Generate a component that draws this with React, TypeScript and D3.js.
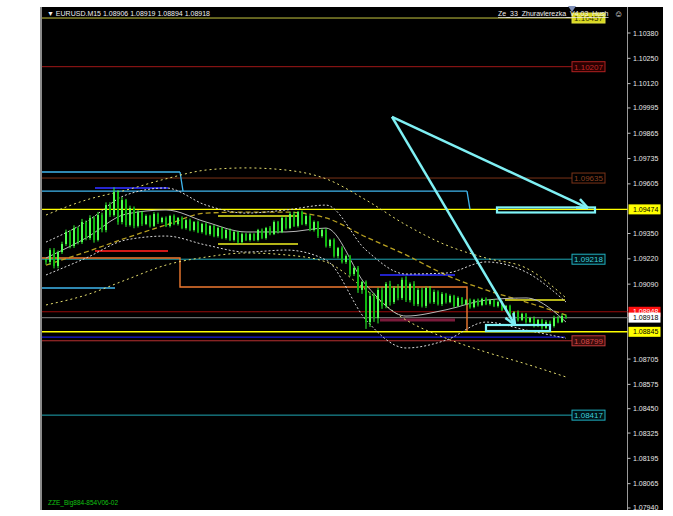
import React from "react";
import * as d3 from "d3";

// ---- candle data (EURUSD M15) ----
const closes = [
  1.09204, 1.09265, 1.09183, 1.09255, 1.09296, 1.09358, 1.09286, 1.09378, 1.09306, 1.09409,
  1.09327, 1.0943, 1.09317, 1.09445, 1.09368, 1.09496, 1.09445, 1.09563, 1.09409, 1.09522,
  1.09394, 1.09481, 1.09389, 1.0946, 1.09399, 1.0944, 1.09389, 1.0945, 1.09409, 1.0943,
  1.09389, 1.0944, 1.09399, 1.0943, 1.09378, 1.09419, 1.09368, 1.09409, 1.09358, 1.09399,
  1.09347, 1.09389, 1.09337, 1.09378, 1.09327, 1.09368, 1.09317, 1.09358, 1.09306, 1.09347,
  1.09317, 1.09347, 1.09317, 1.09368, 1.09327, 1.09378, 1.09347, 1.09409, 1.09358, 1.0943,
  1.09378, 1.0945, 1.09389, 1.0946, 1.09399, 1.0944, 1.09368, 1.09409, 1.09337, 1.09368,
  1.09286, 1.09317, 1.09234, 1.09275, 1.09204, 1.09234, 1.09142, 1.09173, 1.0906, 1.09101,
  1.08895, 1.09029, 1.08916, 1.0906, 1.08978, 1.09091, 1.08998, 1.0907, 1.09019, 1.09112,
  1.09008, 1.09091, 1.08988, 1.0906, 1.08978, 1.0907, 1.08998, 1.0905, 1.08988, 1.09039,
  1.08998, 1.09029, 1.08978, 1.09019, 1.08988, 1.09008, 1.08972, 1.09008, 1.08983, 1.09014,
  1.08988, 1.09008, 1.08978, 1.08998, 1.08958, 1.08978, 1.08926, 1.08947, 1.08906, 1.08937,
  1.08895, 1.08916, 1.08875, 1.08906, 1.08865, 1.08895, 1.08875, 1.08916, 1.08895, 1.08926,
  1.08918,
];
// wick lengths in points (0.00001)
const wickUp = [
  8, 10, 10, 8, 12, 12, 10, 14, 8, 16,
  8, 14, 10, 16, 12, 14, 15, 24, 10, 14,
  6, 12, 8, 10, 6, 8, 6, 10, 8, 6,
  8, 6, 8, 5, 8, 6, 8, 5, 8, 6,
  8, 6, 5, 8, 6, 5, 8, 6, 5, 8,
  6, 8, 5, 6, 8, 6, 10, 8, 6, 10,
  8, 10, 12, 6, 8, 10, 6, 8, 5, 8,
  10, 6, 8, 6, 10, 8, 6, 8, 10, 6,
  8, 20, 15, 12, 14, 10, 16, 10, 20, 12,
  18, 8, 14, 10, 12, 8, 10, 12, 8, 10,
  6, 8, 6, 8, 5, 6, 8, 6, 8, 6,
  8, 6, 5, 8, 6, 5, 6, 5, 8, 6,
  5, 6, 8, 5, 6, 10, 8, 12, 10, 12,
  8,
];
const wickDn = [
  14, 15, 12, 12, 10, 10, 12, 10, 12, 10,
  12, 10, 14, 8, 12, 12, 10, 8, 14, 12,
  10, 8, 12, 8, 10, 6, 8, 6, 10, 8,
  6, 8, 6, 8, 6, 8, 6, 8, 6, 8,
  6, 8, 6, 8, 6, 8, 6, 8, 10, 8,
  6, 8, 6, 8, 6, 8, 6, 5, 8, 6,
  8, 6, 5, 8, 6, 8, 6, 8, 10, 8,
  8, 10, 8, 12, 8, 10, 12, 10, 15, 20,
  35, 25, 20, 28, 15, 12, 18, 10, 12, 10,
  10, 12, 10, 12, 8, 10, 8, 10, 8, 10,
  8, 6, 8, 6, 8, 6, 8, 6, 8, 6,
  6, 8, 6, 8, 6, 8, 6, 8, 8, 6,
  8, 6, 8, 6, 8, 6, 6, 8, 6, 5,
  6,
];

// ---- indicator lines, sampled every 10 bars ----
const bandBars = [0, 10, 20, 30, 40, 50, 60, 70, 80, 90, 100, 110, 120, 130];
const maLine = [1.09224, 1.09327, 1.0945, 1.09471, 1.09409, 1.09358, 1.09358, 1.09378, 1.09086, 1.08926, 1.08958, 1.09008, 1.09019, 1.08895];
const bbUpper = [1.09306, 1.09409, 1.09548, 1.09584, 1.09496, 1.09455, 1.09471, 1.09496, 1.09265, 1.09142, 1.09147, 1.09204, 1.09152, 1.08998];
const bbLower = [1.09137, 1.09224, 1.09317, 1.09337, 1.09291, 1.09255, 1.09265, 1.09214, 1.08906, 1.08762, 1.08802, 1.08895, 1.08854, 1.08812];
const envUpper = [1.09445, 1.09522, 1.09573, 1.09631, 1.09676, 1.09687, 1.09676, 1.09631, 1.09522, 1.09394, 1.09291, 1.09224, 1.09173, 1.09019];
const envLower = [1.08983, 1.09034, 1.09112, 1.09188, 1.09229, 1.0925, 1.0924, 1.09204, 1.0906, 1.08906, 1.08812, 1.08741, 1.0868, 1.08613];
const slowMa = [1.09188, 1.09255, 1.09327, 1.09394, 1.09455, 1.0946, 1.0946, 1.0943, 1.09332, 1.0924, 1.09137, 1.0906, 1.08998, 1.08931];

// ---- price axis ----
const axisTicks = [1.1038, 1.1025, 1.1012, 1.09995, 1.09865, 1.09735, 1.09605, 1.0935, 1.0922, 1.0909, 1.08705, 1.08575, 1.0845, 1.08325, 1.08195, 1.08065, 1.0794];
const axisTickLabels = ["1.10380", "1.10250", "1.10120", "1.09995", "1.09865", "1.09735", "1.09605", "1.09350", "1.09220", "1.09090", "1.08705", "1.08575", "1.08450", "1.08325", "1.08195", "1.08065", "1.07940"];

// ---- horizontal levels with right-side label boxes ----
const labeledLevels = [1.10457, 1.10207, 1.09635, 1.09218, 1.08799, 1.08417];
const labeledTexts = ["1.10457", "1.10207", "1.09635", "1.09218", "1.08799", "1.08417"];
// levels that run to the price axis
const axisLevels = [1.08948, 1.08918, 1.09474, 1.08845];
const axisLevelTexts = ["1.08948", "1.08918", "1.09474", "1.08845"];
const blueLevel = 1.08818;

// ---- drawn segments: [fromBar, toBar, price] ----
const skyTop = [-1, 33.5, 1.09666];
const skyMid = [-1, 105.25, 1.09568];
const skyLow = [-1, 17.25, 1.0907];
const blueTop = [12.25, 30.5, 1.09584];
const redShort = [12.25, 30.5, 1.0926];
const yellowShort = [
  [43, 63, 1.0944],
  [43, 63, 1.09296],
  [114.75, 129.75, 1.09008],
];
const blueBox = [83.5, 102.25, 1.09137];
const maroonBox = [83.5, 102.25, 1.08906];
// orange step line: [bar, price]
const orangeStep = [
  [-1, 1.09224], [33.5, 1.09224], [33.5, 1.09075], [105.25, 1.09075], [105.25, 1.08849],
];
// sky step drop
const skyDrop = [[105.25, 1.09568], [106, 1.09474]];
// rectangles [fromBar, toBar, priceTop, priceBottom]
const rects = [
  [112.75, 137.25, 1.09484, 1.09458],
  [110, 126, 1.0888, 1.08849],
];
// arrows [fromBar, fromPrice, toBar, toPrice]
const arrows = [
  [86.5, 1.09949, 135.5, 1.09481],
  [86.5, 1.09949, 117.25, 1.0888],
];

const W = 673;
const H = 516;
const FONT = "'Liberation Sans', Arial, sans-serif";

export default function App() {
  const xs = d3.scaleLinear().domain([0, 130]).range([46, 566]);
  const ys = d3.scaleLinear().domain([1.079297, 1.105136]).range([510, 7]);
  const plotR = 627.5;
  const labelX = xs(131.5);

  const band = (vals: number[]) =>
    d3
      .line<number>()
      .x((_, k) => xs(bandBars[k]))
      .y((v) => ys(v))
      .curve(d3.curveMonotoneX)(vals) || "";

  const stepPath = (pts: number[][]) =>
    d3
      .line<number[]>()
      .x((p) => xs(p[0]))
      .y((p) => ys(p[1]))(pts) || "";

  const labelStyles = [
    { line: "#c8c840", fill: "#d8d820", stroke: "#e0e040", text: "#303000" },
    { line: "#a01818", fill: "#2a0000", stroke: "#b02020", text: "#c02828" },
    { line: "#7a3318", fill: "#000000", stroke: "#7a3318", text: "#8a4020" },
    { line: "#1fa6b4", fill: "#001418", stroke: "#1fb0c0", text: "#3ccfdc" },
    { line: "#b83030", fill: "#3a0c0c", stroke: "#c03a3a", text: "#d84848" },
    { line: "#1fa6b4", fill: "#001418", stroke: "#1fb0c0", text: "#3ccfdc" },
  ];
  const axisStyles = [
    { line: "#9a0a0a", fill: "#ff1010", text: "#ffffff" },
    { line: "#6a6a6a", fill: "#ffffff", text: "#000000" },
    { line: "#ffff00", fill: "#ffff00", text: "#000000" },
    { line: "#ffff00", fill: "#ffff00", text: "#000000" },
  ];

  const candles = closes.map((c, i) => {
    const o = i === 0 ? c + 0.0001 : closes[i - 1];
    const hi = Math.max(o, c) + wickUp[i] * 1e-5;
    const lo = Math.min(o, c) - wickDn[i] * 1e-5;
    return { i, o, c, hi, lo };
  });

  const arrowHead = (a: number[], key: string) => {
    const x1 = xs(a[0]), y1 = ys(a[1]), x2 = xs(a[2]), y2 = ys(a[3]);
    const ang = Math.atan2(y2 - y1, x2 - x1);
    const L = 12, sp = 0.4;
    const p1 = [x2 - L * Math.cos(ang - sp), y2 - L * Math.sin(ang - sp)];
    const p2 = [x2 - L * Math.cos(ang + sp), y2 - L * Math.sin(ang + sp)];
    return (
      <g key={key}>
        <line x1={x1} y1={y1} x2={x2} y2={y2} stroke="#7ff0f4" strokeWidth={2.5} />
        <line x1={x2} y1={y2} x2={p1[0]} y2={p1[1]} stroke="#7ff0f4" strokeWidth={2.5} />
        <line x1={x2} y1={y2} x2={p2[0]} y2={p2[1]} stroke="#7ff0f4" strokeWidth={2.5} />
      </g>
    );
  };

  return (
    <svg width={W} height={H} style={{ position: "absolute", left: 0, top: 0, background: "#ffffff" }} fontFamily={FONT}>
      <rect x={0} y={0} width={W} height={H} fill="#ffffff" />
      <rect x={40} y={7} width={623} height={503} fill="#000000" />
      <rect x={40} y={7} width={2} height={503} fill="#8a8a8a" />
      <line x1={plotR} y1={7} x2={plotR} y2={510} stroke="#9a9a9a" strokeWidth={1} />

      {/* labeled levels */}
      {labeledLevels.map((p, k) => (
        <line key={"ll" + k} x1={xs(-1)} x2={labelX} y1={ys(p)} y2={ys(p)} stroke={labelStyles[k].line} strokeWidth={1} />
      ))}
      {/* blue level */}
      <line x1={xs(-1)} x2={xs(129.75)} y1={ys(blueLevel)} y2={ys(blueLevel)} stroke="#1a1ad8" strokeWidth={1.2} />
      {/* axis levels */}
      {axisLevels.map((p, k) => (
        <line key={"al" + k} x1={xs(-1)} x2={plotR} y1={ys(p)} y2={ys(p)} stroke={axisStyles[k].line} strokeWidth={k >= 2 ? 1.4 : 1.2} />
      ))}

      {/* segments */}
      <line x1={xs(skyTop[0])} x2={xs(skyTop[1])} y1={ys(skyTop[2])} y2={ys(skyTop[2])} stroke="#3fb6ee" strokeWidth={1.3} />
      <line x1={xs(skyTop[1])} x2={xs(skyTop[1]) + 3} y1={ys(skyTop[2])} y2={ys(skyMid[2])} stroke="#3fb6ee" strokeWidth={1.3} />
      <line x1={xs(skyMid[0])} x2={xs(skyMid[1])} y1={ys(skyMid[2])} y2={ys(skyMid[2])} stroke="#3fb6ee" strokeWidth={1.3} />
      <path d={stepPath(skyDrop)} stroke="#3fb6ee" strokeWidth={1.3} fill="none" />
      <line x1={xs(skyLow[0])} x2={xs(skyLow[1])} y1={ys(skyLow[2])} y2={ys(skyLow[2])} stroke="#3fb6ee" strokeWidth={1.3} />
      <line x1={xs(blueTop[0])} x2={xs(blueTop[1])} y1={ys(blueTop[2])} y2={ys(blueTop[2])} stroke="#2626d0" strokeWidth={2} />
      <line x1={xs(redShort[0])} x2={xs(redShort[1])} y1={ys(redShort[2])} y2={ys(redShort[2])} stroke="#d01818" strokeWidth={2} />
      {yellowShort.map((s, k) => (
        <line key={"ys" + k} x1={xs(s[0])} x2={xs(s[1])} y1={ys(s[2])} y2={ys(s[2])} stroke="#f0f020" strokeWidth={1.5} />
      ))}
      <line x1={xs(blueBox[0])} x2={xs(blueBox[1])} y1={ys(blueBox[2])} y2={ys(blueBox[2])} stroke="#2222c8" strokeWidth={2.2} />
      <line x1={xs(maroonBox[0])} x2={xs(maroonBox[1])} y1={ys(maroonBox[2])} y2={ys(maroonBox[2])} stroke="#7a1a3a" strokeWidth={3} />
      <path d={stepPath(orangeStep)} stroke="#f07a30" strokeWidth={1.4} fill="none" />

      {/* indicator lines */}
      <path d={band(envUpper)} stroke="#e8e070" strokeWidth={1} strokeDasharray="2 3" fill="none" />
      <path d={band(envLower)} stroke="#e8e070" strokeWidth={1} strokeDasharray="2 3" fill="none" />
      <path d={band(slowMa)} stroke="#b8a020" strokeWidth={1.3} strokeDasharray="5 3" fill="none" />
      <path d={band(bbUpper)} stroke="#d8d8d8" strokeWidth={1} strokeDasharray="2 2" fill="none" />
      <path d={band(bbLower)} stroke="#d8d8d8" strokeWidth={1} strokeDasharray="2 2" fill="none" />
      <path d={band(maLine)} stroke="#b8b8b8" strokeWidth={1} fill="none" />

      {/* candles */}
      {candles.map((k) => {
        const x = xs(k.i);
        const top = ys(Math.max(k.o, k.c));
        const bot = ys(Math.min(k.o, k.c));
        const bull = k.c >= k.o;
        return (
          <g key={"c" + k.i}>
            <line x1={x} x2={x} y1={ys(k.hi)} y2={ys(k.lo)} stroke="#30ff30" strokeWidth={1} />
            <rect x={x - 1} y={top} width={2} height={Math.max(1, bot - top)} fill={bull ? "#50ff50" : "#10b810"} />
          </g>
        );
      })}

      {/* rectangles */}
      {rects.map((r, k) => (
        <rect key={"r" + k} x={xs(r[0])} y={ys(r[2])} width={xs(r[1]) - xs(r[0])} height={ys(r[3]) - ys(r[2])} fill="none" stroke="#80f4f8" strokeWidth={2.2} />
      ))}
      {/* arrows */}
      {arrows.map((a, k) => arrowHead(a, "a" + k))}

      {/* level label boxes */}
      {labeledLevels.map((p, k) => (
        <g key={"lb" + k}>
          <rect x={labelX} y={ys(p) - 5} width={33} height={10} fill={labelStyles[k].fill} stroke={labelStyles[k].stroke} strokeWidth={1} />
          <text x={labelX + 16.5} y={ys(p) + 3} fontSize={8} textAnchor="middle" fill={labelStyles[k].text}>{labeledTexts[k]}</text>
        </g>
      ))}

      {/* price axis */}
      {axisTicks.map((t, k) => (
        <g key={"t" + k}>
          <line x1={plotR} x2={plotR + 3} y1={ys(t)} y2={ys(t)} stroke="#c0c0c0" />
          <text x={633} y={ys(t) + 2.5} fontSize={7} fill="#e8e8e8">{axisTickLabels[k]}</text>
        </g>
      ))}
      {axisLevels.map((p, k) => (
        <g key={"ab" + k}>
          <rect x={plotR + 1} y={ys(p) - 5} width={32} height={10} fill={axisStyles[k].fill} />
          <text x={633} y={ys(p) + 2.5} fontSize={7} fill={axisStyles[k].text}>{axisLevelTexts[k]}</text>
        </g>
      ))}

      {/* header texts */}
      <text x={47} y={16} fontSize={7} fill="#f0f0f0">▼ EURUSD.M15  1.08906 1.08919 1.08894 1.08918</text>
      <polygon points="568,6 576,6 572,12" fill="#8090b8" />
      <text x={498} y={16} fontSize={7} fill="#f0f0f0" textDecoration="underline">Ze_33_Zhuravlerezka_V4.03_Hush</text>
      <text x={614} y={17} fontSize={9} fill="#f0f0f0">☺</text>
      <text x={48} y={505} fontSize={6.5} fill="#10c010">ZZE_Big884-854V06-02</text>
    </svg>
  );
}
